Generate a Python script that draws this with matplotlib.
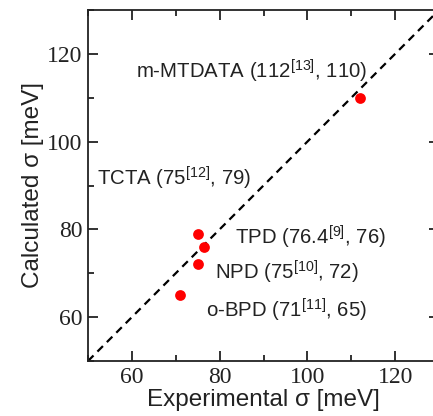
import matplotlib
matplotlib.use("Agg")
import matplotlib.pyplot as plt
from matplotlib.ticker import MultipleLocator

plt.rcParams['mathtext.fontset'] = 'custom'
plt.rcParams['mathtext.rm'] = 'Liberation Sans'
plt.rcParams['mathtext.it'] = 'Liberation Sans:italic'
plt.rcParams['mathtext.bf'] = 'Liberation Sans:bold'

materials = ["m-MTDATA", "TCTA", "TPD", "NPD", "o-BPD"]
experimental = [112, 75, 76.4, 75, 71]
calculated = [110, 79, 76, 72, 65]
refs = ["13", "12", "9", "10", "11"]
exp_txt = ["112", "75", "76.4", "75", "71"]
# label anchor positions (data coords)
label_x = [61, 52, 83.5, 79, 77]
label_y = [116, 91.7, 78.2, 70.3, 61.6]

fig = plt.figure(figsize=(4.33, 4.16), dpi=100)
ax = fig.add_axes([88/433, (416-361)/416, 351/433, 351/416])

ax.plot([50, 130], [50, 130], ls=(0, (3.5, 2.5)), color='black', lw=1.6, zorder=1)
ax.scatter(experimental, calculated, s=60, color='#ff0000', zorder=3, linewidths=0)

for m, e, c, r, lx, ly in zip(materials, exp_txt, calculated, refs, label_x, label_y):
    ax.text(lx, ly, f"{m} ({e}$^{{[{r}]}}$, {c})", fontsize=14.7,
            family='Liberation Sans', color='#222222', va='center', ha='left')

ax.set_xlim(50, 130)
ax.set_ylim(50, 130)
ax.xaxis.set_major_locator(MultipleLocator(20))
ax.yaxis.set_major_locator(MultipleLocator(20))
ax.xaxis.set_minor_locator(MultipleLocator(10))
ax.yaxis.set_minor_locator(MultipleLocator(10))
ax.tick_params(which='both', direction='in', top=True, right=True, width=1.3, colors='#222222')
ax.tick_params(which='major', length=7, labelsize=17, pad=4)
ax.tick_params(which='minor', length=4)
for lab in ax.get_xticklabels() + ax.get_yticklabels():
    lab.set_family('Liberation Serif')
for sp in ax.spines.values():
    sp.set_linewidth(1.3)
    sp.set_color('#222222')

ax.set_xlabel("Experimental σ [meV]", fontsize=17.5, family='Liberation Sans', labelpad=1, color='#222222')
ax.set_ylabel("Calculated σ [meV]", fontsize=17.5, family='Liberation Sans', labelpad=2, color='#222222')

fig.savefig("out.png", dpi=100)
